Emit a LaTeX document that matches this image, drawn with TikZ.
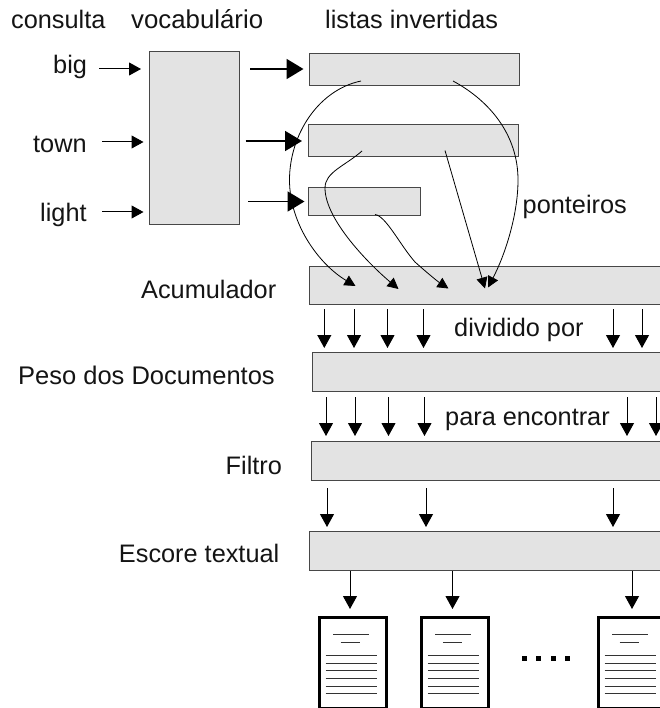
\documentclass[tikz,border=0pt]{standalone}
\usepackage{fontspec}
\setmainfont{Liberation Sans}
\usetikzlibrary{arrows.meta}
\tikzset{
  x=1pt,y=-1pt,
  box/.style={draw=black!72,fill=black!11,line width=1pt,inner sep=0pt,outer sep=0pt},
  lab/.style={anchor=base west,inner sep=0pt,font=\fontsize{25.3}{28}\selectfont,text=black!92},
  small/.style={line width=1pt,-{Triangle[length=12pt,width=13pt]}},
  thick arr/.style={line width=1.8pt,-{Triangle[length=17pt,width=20pt]}},
  down/.style={line width=1pt,-{Triangle[length=13pt,width=14pt]}},
  ptr/.style={line width=.8pt,-{Triangle[length=11pt,width=11pt]}},
  page/.style={draw=black,fill=white,line width=3pt,inner sep=0pt},
  rule/.style={line width=1pt,black!80},
}
\begin{document}
\begin{tikzpicture}
\useasboundingbox (0,0) rectangle (659,708);
% boxes
\node[box,minimum width=90pt,minimum height=173pt] (vocab) at (194.5,138.5) {};
\node[box,minimum width=210pt,minimum height=32pt] (list1) at (414,70) {};
\node[box,minimum width=210pt,minimum height=32pt] (list2) at (413,141) {};
\node[box,minimum width=112pt,minimum height=28pt] (list3) at (364.5,202) {};
\node[box,minimum width=361pt,minimum height=38pt] (acum) at (489.5,285) {};
\node[box,minimum width=358pt,minimum height=38.5pt] (peso) at (491,372) {};
\node[box,minimum width=359pt,minimum height=38.7pt] (filtro) at (490.5,460.7) {};
\node[box,minimum width=360.5pt,minimum height=38.7pt] (escore) at (489.75,551.3) {};
% labels
\node[lab] (tconsulta) at (11,29) {consulta};
\node[lab,font=\fontsize{25.8}{28}\selectfont] (tvocab) at (131,29) {vocabulário};
\node[lab] (tlistas) at (325,29) {listas invertidas};
\node[lab] (tbig) at (53,74) {big};
\node[lab] (ttown) at (33,152.5) {town};
\node[lab] (tlight) at (40,221.5) {light};
\node[lab] (tponteiros) at (522.5,214) {ponteiros};
\node[lab] (tacum) at (141,298) {Acumulador};
\node[lab,font=\fontsize{25.5}{28}\selectfont] (tpeso) at (18,384) {Peso dos Documentos};
\node[lab] (tfiltro) at (225.5,474.5) {Filtro};
\node[lab,anchor=base east] (tescore) at (279.5,562) {Escore textual};
\node[lab] (tdiv) at (454,336) {dividido por};
\node[lab] (tpara) at (445,425) {para encontrar};
% query arrows
\coordinate (qa) at (99,69);   \coordinate (qb) at (141,69);
\coordinate (qc) at (102,142); \coordinate (qd) at (143.5,142);
\coordinate (qe) at (102,212); \coordinate (qf) at (143.5,212);
\draw[small] (qa) -- (qb);
\draw[small] (qc) -- (qd);
\draw[small] (qe) -- (qf);
\coordinate (va) at (250,69);    \coordinate (vb) at (303.5,69);
\coordinate (vc) at (245.5,141); \coordinate (vd) at (302,141);
\coordinate (ve) at (248,201.5); \coordinate (vf) at (304.5,201.5);
\draw[thick arr] (va) -- (vb);
\draw[thick arr] (vc) -- (vd);
\draw[thick arr] (ve) -- (vf);
% pointers
\coordinate (p1s) at (361,81);   \coordinate (p1m) at (289.5,180); \coordinate (p1e) at (355.5,286);
\coordinate (p2s) at (453,81);   \coordinate (p2m) at (518,180);   \coordinate (p2e) at (488,287.5);
\coordinate (p3s) at (362,151);  \coordinate (p3m) at (325,188);   \coordinate (p3e) at (398.5,289);
\coordinate (p4s) at (375,214.5);\coordinate (p4m) at (415,262);   \coordinate (p4e) at (448.5,288.5);
\coordinate (p5s) at (445,150.5);\coordinate (p5e) at (485,288.5);
\draw[ptr] (p1s) .. controls (318,90) and (289.5,135) .. (p1m) .. controls (289.5,225) and (320,265) .. (p1e);
\draw[ptr] (p2s) .. controls (490,101) and (518,135) .. (p2m) .. controls (518,215) and (505,255) .. (p2e);
\draw[ptr] (p3s) .. controls (345,166) and (325,172) .. (p3m) .. controls (325,220) and (370,265) .. (p3e);
\draw[ptr] (p4s) .. controls (386,216) and (400,245) .. (p4m) .. controls (425,271) and (437,281) .. (p4e);
\draw[ptr] (p5s) -- (p5e);
% down arrows
\foreach \i/\x in {1/324.3,2/354,3/387.5,4/423.5,5/613,6/642}{
  \coordinate (da\i) at (\x,309); \coordinate (db\i) at (\x,348);
  \draw[down] (da\i) -- (db\i);}
\foreach \i/\x in {1/326,2/355,3/388.5,4/424.5,5/627,6/656}{
  \coordinate (dc\i) at (\x,397); \coordinate (dd\i) at (\x,436);
  \draw[down] (dc\i) -- (dd\i);}
\foreach \i/\x in {1/327,2/426,3/613}{
  \coordinate (de\i) at (\x,488); \coordinate (df\i) at (\x,527);
  \draw[down] (de\i) -- (df\i);}
\foreach \i/\x in {1/350,2/452.5,3/632}{
  \coordinate (dg\i) at (\x,571); \coordinate (dh\i) at (\x,609);
  \draw[down] (dg\i) -- (dh\i);}
% documents
\foreach \n/\x in {1/317.5,2/419.8,3/596.5}{
  \begin{scope}[shift={(\x,0)}]
    \node[page,minimum width=67pt,minimum height=91pt,anchor=north west] (doc\n) at (0,616) {};
    \draw[rule] (15.5,634.7) -- (51.5,634.7);
    \draw[rule] (23,642.5) -- (42,642.5);
    \foreach \y in {655,663,670.5,678,686,693.5}
      \draw[rule] (8,\y) -- (59,\y);
  \end{scope}}
% dots
\foreach \x in {524,538,553,567}
  \fill (\x-2.5,655.5) rectangle (\x+2.5,660.5);
\end{tikzpicture}
\end{document}
